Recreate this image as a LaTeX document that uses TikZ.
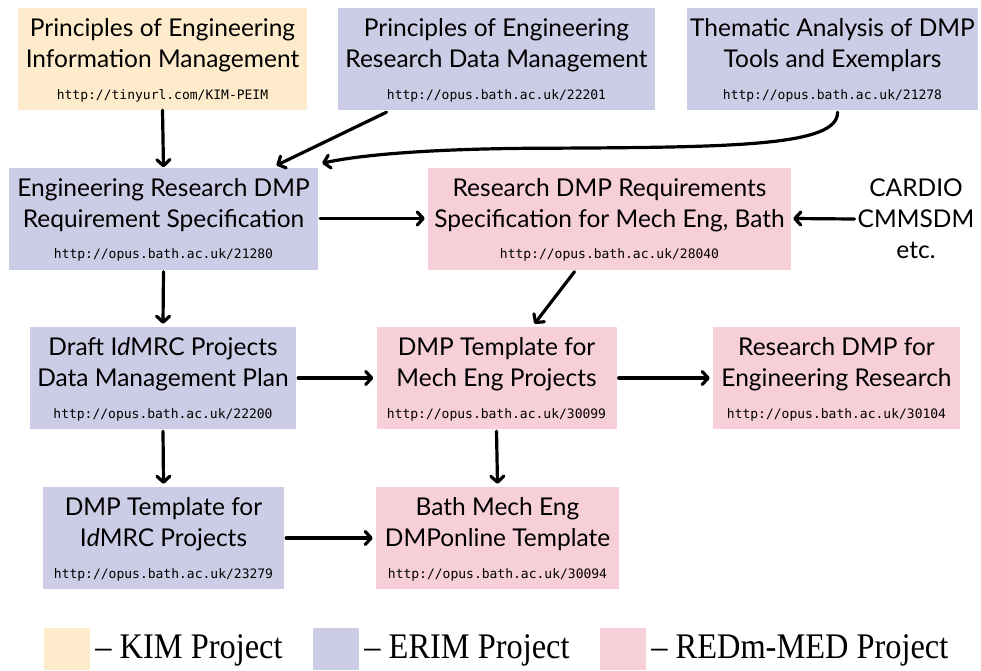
\documentclass[tikz,border=0pt]{standalone}
\usepackage{fontspec}
\usepackage{graphicx}
\newfontfamily\titlefont{Lato}
\newfontfamily\urlfont{DejaVu Sans Mono}
\newfontfamily\legendfont[Ligatures=TeX]{Liberation Serif}
\usetikzlibrary{arrows.meta,calc}

\definecolor{kimfill}{HTML}{FDEBCB}
\definecolor{erimfill}{HTML}{CCCCE6}
\definecolor{redmfill}{HTML}{F7CFD8}

\tikzset{
  box/.style={rectangle, draw=none, inner sep=0pt, minimum height=102pt},
  titletext/.style={align=center, inner sep=0pt,
    font=\titlefont\fontsize{24.5}{31}\selectfont},
  urltext/.style={inner sep=0pt, font=\urlfont\fontsize{13}{15}\selectfont},
  flow/.style={line width=3.2pt, line cap=round,
    -{Straight Barb[length=6pt,width=13pt,line cap=round,line join=round]}},
  legendsq/.style={rectangle, draw=none, inner sep=0pt, minimum width=46pt, minimum height=42pt},
  legendtext/.style={anchor=west, inner sep=0pt, font=\legendfont\fontsize{36}{38}\selectfont},
}

% name, x, y, width, fill, title, url
\newcommand\entrybox[7]{%
  \node[box, fill=#5, minimum width=#4pt] (#1) at (#2,#3) {};
  \node[titletext] (#1-t) at ($(#1.north)+(0,37.5)$) {#6};
  \node[urltext] (#1-u) at ($(#1.north)+(0,88)$) {#7};
}

\begin{document}
\begin{tikzpicture}[x=1pt,y=-1pt]
\useasboundingbox (0,0) rectangle (981,670);

% top row
\entrybox{peim}{162.5}{59}{289}{kimfill}{Principles of Engineering\\Information Management}{http://tinyurl.com/KIM-PEIM}
\entrybox{perdm}{496.5}{59}{317}{erimfill}{Principles of Engineering\\Research Data Management}{http://opus.bath.ac.uk/22201}
\entrybox{thematic}{832.5}{59}{291}{erimfill}{Thematic Analysis of DMP\\Tools and Exemplars}{http://opus.bath.ac.uk/21278}

% second row
\entrybox{erspec}{163.5}{218.5}{309}{erimfill}{Engineering Research DMP\\Requirement Specification}{http://opus.bath.ac.uk/21280}
\entrybox{mespec}{609.5}{218.5}{363}{redmfill}{Research DMP Requirements\\Specification for Mech Eng, Bath}{http://opus.bath.ac.uk/28040}
\node[titletext] (others) at (916,219) {CARDIO\\CMMSDM\\etc.};

% third row
\entrybox{draft}{163}{378}{266}{erimfill}{Draft I\textit{d}MRC Projects\\Data Management Plan}{http://opus.bath.ac.uk/22200}
\entrybox{metpl}{496.5}{378}{240}{redmfill}{DMP Template for\\Mech Eng Projects}{http://opus.bath.ac.uk/30099}
\entrybox{ermp}{836.5}{378}{247}{redmfill}{Research DMP for\\Engineering Research}{http://opus.bath.ac.uk/30104}

% bottom row
\entrybox{idtpl}{163.5}{538}{241}{erimfill}{DMP Template for\\I\textit{d}MRC Projects}{http://opus.bath.ac.uk/23279}
\entrybox{online}{497.5}{538}{243}{redmfill}{Bath Mech Eng\\DMPonline Template}{http://opus.bath.ac.uk/30094}

% connectors
\draw[flow] (peim.south) -- (erspec.north);
\draw[flow] ($(perdm.south)+(-110,2)$) -- ($(erspec.north)+(113,-2)$);
\draw[flow] ($(thematic.south)+(5,2)$) .. controls ($(thematic.south)+(6,36)$) and ($(thematic.south)+(-100,37)$) .. ($(thematic.south)+(-280,38)$)
  .. controls ($(thematic.south)+(-420,38)$) and ($(erspec.north east)+(30,-10)$) .. ($(erspec.north east)+(4,-4)$);
\draw[flow] ($(erspec.east)+(2,0)$) -- ($(mespec.west)+(-3,0)$);
\draw[flow] ($(others.west)+(-3,0)$) -- ($(mespec.east)+(2,0)$);
\draw[flow] ($(mespec.south)+(-35,2)$) -- ($(metpl.north)+(38,-3)$);
\draw[flow] ($(erspec.south)+(0,2)$) -- ($(draft.north)+(0,-3)$);
\draw[flow] ($(draft.east)+(2,0)$) -- ($(metpl.west)+(-3,0)$);
\draw[flow] ($(metpl.east)+(2,0)$) -- ($(ermp.west)+(-3,0)$);
\draw[flow] ($(metpl.south)+(0,2)$) -- ($(online.north)+(0,-3)$);
\draw[flow] ($(draft.south)+(0,2)$) -- ($(idtpl.north)+(0,-3)$);
\draw[flow] ($(idtpl.east)+(2,0)$) -- ($(online.west)+(-3,0)$);

% legend
\node[legendsq, fill=kimfill] (lkim) at (67,649) {};
\node[legendtext] (lkimt) at ($(lkim.east)+(5,1)$) {\scalebox{0.9}[1]{– KIM Project}};
\node[legendsq, fill=erimfill] (lerim) at (336,649) {};
\node[legendtext] (lerimt) at ($(lerim.east)+(5,1)$) {\scalebox{0.9}[1]{– ERIM Project}};
\node[legendsq, fill=redmfill] (lredm) at (623,649) {};
\node[legendtext] (lredmt) at ($(lredm.east)+(5,1)$) {\scalebox{0.9}[1]{– REDm-MED Project}};
\end{tikzpicture}
\end{document}
